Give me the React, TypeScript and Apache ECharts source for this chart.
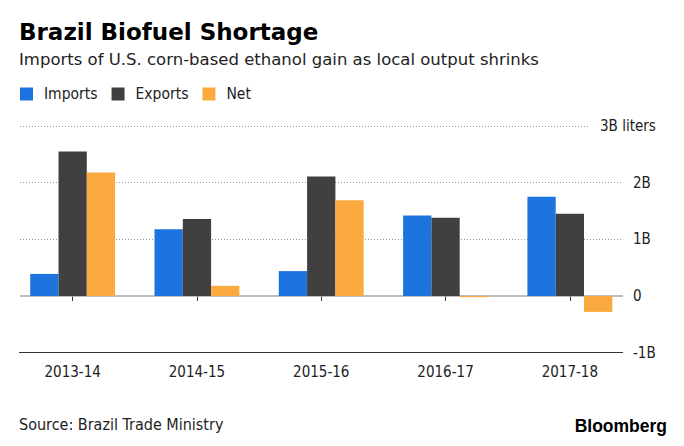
import { useEffect, useRef } from "react";
import * as echarts from "echarts";

const categories = ["2013-14", "2014-15", "2015-16", "2016-17", "2017-18"];
const importsB = [0.39, 1.18, 0.44, 1.42, 1.75];
const exportsB = [2.55, 1.36, 2.11, 1.38, 1.45];
const netB = [2.18, 0.18, 1.69, -0.02, -0.28];
const yTicks = [-1, 0, 1, 2, 3];
const unit = "liters";

const FONT = "'DejaVu Sans Condensed', 'DejaVu Sans', sans-serif";
const WIDE = "'DejaVu Sans', sans-serif";
const BLUE = "#1e74de";
const DARK = "#404040";
const ORANGE = "#fbaa3f";
const TEXT = "#222";

// horizontal rules: dotted guides, a solid zero line, a dark base line
function rule(v: number, x0: number, x1: number, lineStyle: any, label?: any) {
  return [
    { x: x0, yAxis: v, lineStyle, label: label || { show: false } },
    { x: x1, yAxis: v },
  ];
}

export default function App() {
  const ref = useRef<HTMLDivElement>(null);

  useEffect(() => {
    if (!ref.current) return;
    const chart = echarts.init(ref.current, null, { renderer: "svg" });
    const top = yTicks[yTicks.length - 1];
    const dotted = { color: "#9a9a9a", width: 1, type: [1, 2] };
    const rules: any[] = [];
    yTicks.forEach((v) => {
      if (v === top) {
        rules.push(
          rule(v, 20, 588, dotted, {
            show: true,
            position: "end",
            formatter: `${v}B ${unit}`,
            color: TEXT,
            fontFamily: FONT,
            fontSize: 15,
            distance: 12,
          })
        );
      } else if (v === 0) {
        rules.push(rule(v, 20, 623, { color: "#a8a8a8", width: 1.5, type: "solid" }));
      } else if (v === yTicks[0]) {
        rules.push(rule(v, 19, 623, { color: "#333", width: 1.2, type: "solid" }));
      } else {
        rules.push(rule(v, 20, 623, dotted));
      }
    });

    chart.setOption({
      animation: false,
      textStyle: { fontFamily: FONT },
      title: [
        {
          text: "Brazil Biofuel Shortage",
          left: 19,
          top: 20,
          padding: 0,
          textStyle: { fontFamily: WIDE, fontSize: 23, fontWeight: "bold", color: "#000" },
        },
        {
          text: "Imports of U.S. corn-based ethanol gain as local output shrinks",
          left: 19,
          top: 51,
          padding: 0,
          textStyle: { fontFamily: WIDE, fontSize: 16.5, fontWeight: "normal", color: TEXT },
        },
        {
          text: "Source: Brazil Trade Ministry",
          left: 19,
          top: 416,
          padding: 0,
          textStyle: { fontFamily: FONT, fontSize: 16, fontWeight: "normal", color: TEXT },
        },
        {
          text: "Bloomberg",
          right: 17,
          top: 417,
          padding: 0,
          textStyle: {
            fontFamily: "'Liberation Sans', Arial, sans-serif",
            fontSize: 17.5,
            fontWeight: "bold",
            color: "#000",
          },
        },
      ],
      legend: {
        left: 20,
        top: 86,
        padding: 0,
        icon: "rect",
        itemWidth: 13,
        itemHeight: 13,
        itemGap: 14,
        textStyle: { fontFamily: FONT, fontSize: 15.5, color: TEXT, padding: [0, 0, 0, 6] },
        data: ["Imports", "Exports", "Net"],
      },
      grid: { left: 10.5, right: 52, top: 126, bottom: 93.3, containLabel: false },
      xAxis: {
        type: "category",
        data: categories,
        axisLine: { show: false },
        axisTick: { show: true, alignWithLabel: true, length: 5, lineStyle: { color: "#333" } },
        axisLabel: { color: TEXT, fontFamily: FONT, fontSize: 15, margin: 12 },
        splitLine: { show: false },
      },
      yAxis: {
        type: "value",
        position: "right",
        min: yTicks[0],
        max: top,
        interval: 1,
        axisLine: { show: false },
        axisTick: { show: false },
        splitLine: { show: false },
        axisLabel: {
          align: "left",
          margin: 1,
          color: TEXT,
          fontFamily: FONT,
          fontSize: 15,
          formatter: (v: number) => (v === top ? "" : v === 0 ? "0" : `${v}B`),
        },
      },
      series: [
        {
          name: "Imports",
          type: "bar",
          data: importsB,
          barWidth: 28.3,
          barGap: "0%",
          itemStyle: { color: BLUE },
          markLine: {
            silent: true,
            symbol: ["none", "none"],
            z: 1,
            label: { show: false },
            data: rules,
          },
        },
        {
          name: "Exports",
          type: "bar",
          data: exportsB,
          barWidth: 28.3,
          barGap: "0%",
          itemStyle: { color: DARK },
        },
        {
          name: "Net",
          type: "bar",
          data: netB,
          barWidth: 28.3,
          barGap: "0%",
          itemStyle: { color: ORANGE },
        },
      ],
    });
    return () => chart.dispose();
  }, []);

  return <div ref={ref} style={{ width: 684, height: 446, margin: -8, background: "#fff" }} />;
}
